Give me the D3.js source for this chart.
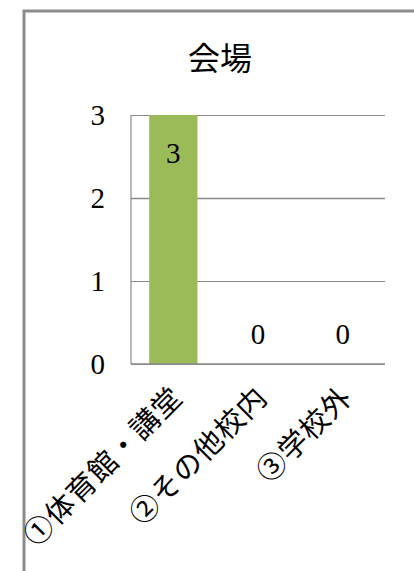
<!DOCTYPE html>
<html>
<head>
<meta charset="utf-8">
<script src="https://cdn.jsdelivr.net/npm/d3@7"></script>
<style>
  html, body { margin: 0; padding: 0; background: #fff; }
  svg { display: block; }
</style>
</head>
<body>
<svg id="chart" width="414" height="571"></svg>
<script>
// 会場別の件数
const categories = ["①体育館・講堂", "②その他校内", "③学校外"];
const counts = [3, 0, 0];
const yTicks = [0, 1, 2, 3];
const title = "会場";

const svg = d3.select("#chart");
const W = 414, H = 571;
const margin = { left: 131, right: 29, top: 115, bottom: 207 };
const plotW = W - margin.left - margin.right;
const plotH = H - margin.top - margin.bottom;

const serif = "'Liberation Serif', 'Times New Roman', serif";
const cjk = "'Noto Sans CJK JP', 'Noto Sans', sans-serif";

// outer frame (left and top edges)
svg.append("path")
  .attr("d", `M24,${H} L24,11 L${W},11`)
  .attr("fill", "none")
  .attr("stroke", "#8c8c8c")
  .attr("stroke-width", 3);

svg.append("text")
  .attr("x", 220)
  .attr("y", 70)
  .attr("text-anchor", "middle")
  .attr("font-family", cjk)
  .attr("font-size", 32)
  .attr("fill", "#000")
  .text(title);

const x = d3.scaleBand().domain(categories).range([0, plotW]).paddingInner(0.43).paddingOuter(0.215);
const y = d3.scaleLinear().domain([0, 3]).range([plotH, 0]);

const g = svg.append("g").attr("transform", `translate(${margin.left},${margin.top})`);

// horizontal gridlines
g.append("g")
  .call(d3.axisLeft(y).tickValues(yTicks).tickSize(-plotW).tickFormat(""))
  .call(s => s.select(".domain").remove())
  .call(s => s.selectAll("line").attr("stroke", "#8a8a8a").attr("stroke-width", d => d === 2 ? 1.6 : 1.2));

// bars
g.selectAll("rect.bar")
  .data(counts)
  .join("rect")
  .attr("class", "bar")
  .attr("x", (d, i) => x(categories[i]))
  .attr("y", d => y(d))
  .attr("width", x.bandwidth())
  .attr("height", d => plotH - y(d))
  .attr("fill", "#9bbb59");

// value axis line and baseline
g.append("line").attr("x1", 0).attr("x2", 0).attr("y1", 0).attr("y2", plotH)
  .attr("stroke", "#8a8a8a").attr("stroke-width", 1.2);
g.append("line").attr("x1", 0).attr("x2", plotW).attr("y1", plotH).attr("y2", plotH)
  .attr("stroke", "#8a8a8a").attr("stroke-width", 1.6);

// y tick labels
g.append("g")
  .call(d3.axisLeft(y).tickValues(yTicks).tickSize(0).tickPadding(26).tickFormat(d3.format("d")))
  .call(s => s.select(".domain").remove())
  .call(s => s.selectAll("text").attr("font-family", serif).attr("font-size", 29).attr("fill", "#000"));

// value labels
g.selectAll("text.val")
  .data(counts)
  .join("text")
  .attr("class", "val")
  .attr("x", (d, i) => x(categories[i]) + x.bandwidth() / 2)
  .attr("y", d => d > 0 ? y(d) + 38 : y(0) - 30)
  .attr("dy", "0.35em")
  .attr("text-anchor", "middle")
  .attr("font-family", serif)
  .attr("font-size", 29)
  .attr("fill", "#000")
  .text(d => d);

// category labels, rotated
g.selectAll("text.cat")
  .data(categories)
  .join("text")
  .attr("class", "cat")
  .attr("transform", d => `translate(${x(d) + x.bandwidth() / 2 + 4},${plotH + 28}) rotate(-45)`)
  .attr("text-anchor", "end")
  .attr("dy", "0.35em")
  .attr("font-family", cjk)
  .attr("font-size", 29)
  .attr("letter-spacing", 1)
  .attr("fill", "#000")
  .text(d => d);
</script>
</body>
</html>
